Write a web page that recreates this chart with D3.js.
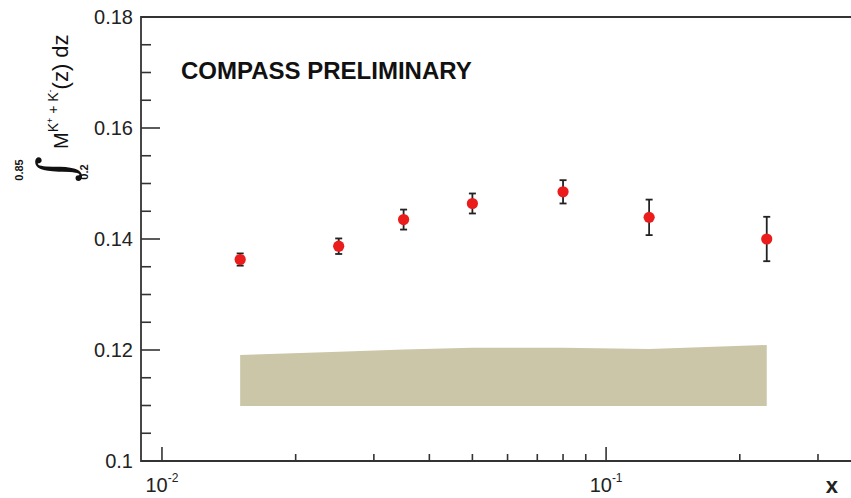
<!DOCTYPE html>
<html>
<head>
<meta charset="utf-8">
<script src="https://cdn.jsdelivr.net/npm/d3@7"></script>
<style>
  html, body { margin: 0; padding: 0; background: #fff; }
  svg { display: block; }
  text { font-family: "Liberation Sans", Arial, Helvetica, sans-serif; }
</style>
</head>
<body>
<svg id="chart" width="851" height="498"></svg>
<script>
// Integrated kaon multiplicity vs Bjorken x
const xValues   = [0.015, 0.025, 0.035, 0.05, 0.08, 0.125, 0.23];
const yValues   = [0.1363, 0.1387, 0.1435, 0.1464, 0.1485, 0.1439, 0.1400];
const yErrors   = [0.0011, 0.0014, 0.0018, 0.0018, 0.0021, 0.0032, 0.0040];
// Systematic band (lower and upper edge at each x bin)
const bandLow   = [0.1099, 0.1099, 0.1099, 0.1099, 0.1099, 0.1099, 0.1099];
const bandHigh  = [0.1191, 0.1197, 0.1201, 0.1204, 0.1204, 0.1202, 0.1209];
// Axis ticks
const yMajorTicks = [0.10, 0.12, 0.14, 0.16, 0.18];
const yTickLabels = ["0.1", "0.12", "0.14", "0.16", "0.18"];
const xDecades    = [0.01, 0.1];
const xDecadeExp  = ["-2", "-1"];
const xMinorTicks = [0.02, 0.03, 0.04, 0.05, 0.06, 0.07, 0.08, 0.09, 0.2, 0.3];

const svg = d3.select("#chart");
const padL = 141, padT = 17, padB = 461, padR = 851;

const x = d3.scaleLog().domain([0.00897, 0.356]).range([padL, padR]);
const y = d3.scaleLinear().domain([0.10, 0.18]).range([padB, padT]);

const axisColor = "#333";

// Systematic band
const band = xValues.map((d, i) => ({ x: d, lo: bandLow[i], hi: bandHigh[i] }));
svg.append("path")
  .datum(band)
  .attr("fill", "#cbc6a8")
  .attr("d", d3.area().x(d => x(d.x)).y0(d => y(d.lo)).y1(d => y(d.hi)));

// Frame
svg.append("path")
  .attr("stroke", axisColor).attr("stroke-width", 1.8).attr("fill", "none")
  .attr("d", `M${padR},${padT}H${padL}V${padB}H${padR}`);

// Y ticks: majors every 0.02, three minors between
const yMinor = [];
for (let i = 0; i < yMajorTicks.length - 1; i++) {
  for (let k = 1; k <= 3; k++) yMinor.push(yMajorTicks[i] + k * 0.005);
}
const yt = svg.append("g").attr("stroke", axisColor).attr("stroke-width", 1.6);
yt.selectAll("line.maj").data(yMajorTicks).join("line").attr("class", "maj")
  .attr("x1", padL).attr("x2", padL + 19)
  .attr("y1", d => y(d)).attr("y2", d => y(d));
yt.selectAll("line.min").data(yMinor).join("line").attr("class", "min")
  .attr("x1", padL).attr("x2", padL + 10)
  .attr("y1", d => y(d)).attr("y2", d => y(d));

svg.append("g").selectAll("text").data(yMajorTicks).join("text")
  .attr("x", padL - 8)
  .attr("y", d => y(d))
  .attr("dy", "0.36em")
  .attr("text-anchor", "end")
  .attr("font-size", 20)
  .attr("fill", "#222")
  .text((d, i) => yTickLabels[i]);

// X ticks (log scale)
const xt = svg.append("g").attr("stroke", axisColor).attr("stroke-width", 1.6);
xt.selectAll("line.maj").data(xDecades).join("line").attr("class", "maj")
  .attr("x1", d => x(d)).attr("x2", d => x(d))
  .attr("y1", padB).attr("y2", padB - 14);
xt.selectAll("line.min").data(xMinorTicks).join("line").attr("class", "min")
  .attr("x1", d => x(d)).attr("x2", d => x(d))
  .attr("y1", padB).attr("y2", padB - 7);

const xl = svg.append("g").selectAll("text").data(xDecades).join("text")
  .attr("x", d => x(d))
  .attr("y", 492)
  .attr("text-anchor", "middle")
  .attr("font-size", 20)
  .attr("fill", "#222");
xl.append("tspan").text("10");
xl.append("tspan").attr("dy", -10).attr("font-size", 12).text((d, i) => xDecadeExp[i]);

// x axis title
svg.append("text")
  .attr("x", 838).attr("y", 493)
  .attr("text-anchor", "end")
  .attr("font-size", 22).attr("font-weight", "bold")
  .attr("fill", "#222")
  .text("x");

// Error bars
const pts = xValues.map((d, i) => ({ x: d, y: yValues[i], e: yErrors[i] }));
const eb = svg.append("g").attr("stroke", "#222").attr("stroke-width", 1.8);
eb.selectAll("line.v").data(pts).join("line").attr("class", "v")
  .attr("x1", d => x(d.x)).attr("x2", d => x(d.x))
  .attr("y1", d => y(d.y - d.e)).attr("y2", d => y(d.y + d.e));
eb.selectAll("line.t").data(pts).join("line").attr("class", "t")
  .attr("x1", d => x(d.x) - 3.5).attr("x2", d => x(d.x) + 3.5)
  .attr("y1", d => y(d.y + d.e)).attr("y2", d => y(d.y + d.e));
eb.selectAll("line.b").data(pts).join("line").attr("class", "b")
  .attr("x1", d => x(d.x) - 3.5).attr("x2", d => x(d.x) + 3.5)
  .attr("y1", d => y(d.y - d.e)).attr("y2", d => y(d.y - d.e));

// Markers
svg.append("g").selectAll("circle").data(pts).join("circle")
  .attr("cx", d => x(d.x)).attr("cy", d => y(d.y))
  .attr("r", 5.6)
  .attr("fill", "#ea1c1c");

// Preliminary tag
svg.append("text")
  .attr("x", 181).attr("y", 79)
  .attr("font-size", 24).attr("font-weight", "bold")
  .attr("fill", "#111")
  .text("COMPASS PRELIMINARY");

// Y axis title: integral from 0.2 to 0.85 of M^{K+ + K-}(z) dz, rotated
function rot(tx, ty) { return `translate(${tx},${ty}) rotate(-90)`; }
const ytitle = svg.append("g").attr("fill", "#111");
ytitle.append("text").attr("transform", rot(23, 170))
  .attr("text-anchor", "middle").attr("font-size", 11).attr("font-weight", "bold")
  .text("0.85");
ytitle.append("text").attr("transform", rot(73, 169))
  .attr("text-anchor", "middle").attr("font-size", 50)
  .style("font-family", "'DejaVu Serif', serif")
  .text("\u222B");
ytitle.append("text").attr("transform", rot(88, 172))
  .attr("text-anchor", "middle").attr("font-size", 11).attr("font-weight", "bold")
  .text("0.2");
const ylab = ytitle.append("text").attr("transform", rot(68, 149))
  .attr("font-size", 22);
ylab.append("tspan").attr("font-size", 20).text("M");
ylab.append("tspan").attr("dy", -10).attr("font-size", 14).text("K");
ylab.append("tspan").attr("dy", -5).attr("font-size", 9).text("+");
ylab.append("tspan").attr("dy", 5).attr("font-size", 14).text(" + K");
ylab.append("tspan").attr("dy", -5).attr("font-size", 9).text("-");
ylab.append("tspan").attr("dy", 15).attr("font-size", 22).text("(z) dz");
</script>
</body>
</html>
